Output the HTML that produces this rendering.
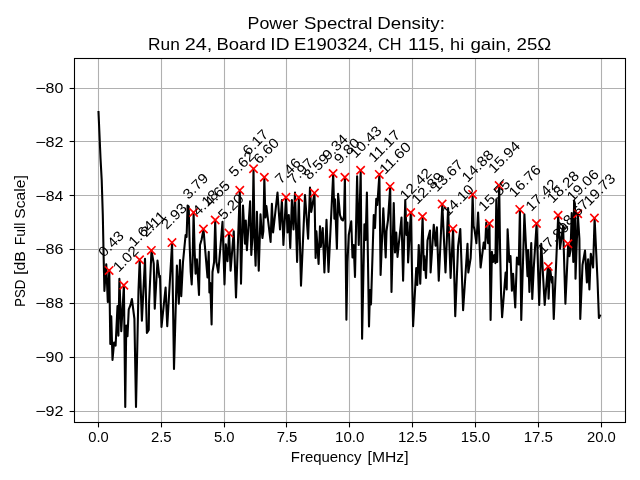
<!DOCTYPE html>
<html><head><meta charset="utf-8"><title>Power Spectral Density</title>
<style>html,body{margin:0;padding:0;background:#fff;}body{width:640px;height:480px;overflow:hidden;}svg{display:block;}text{font-family:"Liberation Sans",sans-serif;fill:#000;}svg{will-change:transform;}</style></head><body>
<svg width="640" height="480" viewBox="0 0 640 480">
<rect x="0" y="0" width="640" height="480" fill="#ffffff"/>
<g stroke="#b0b0b0" stroke-width="1.1" fill="none">
<line x1="98.5" y1="58.5" x2="98.5" y2="422.5"/>
<line x1="161.5" y1="58.5" x2="161.5" y2="422.5"/>
<line x1="224.5" y1="58.5" x2="224.5" y2="422.5"/>
<line x1="286.5" y1="58.5" x2="286.5" y2="422.5"/>
<line x1="349.5" y1="58.5" x2="349.5" y2="422.5"/>
<line x1="412.5" y1="58.5" x2="412.5" y2="422.5"/>
<line x1="475.5" y1="58.5" x2="475.5" y2="422.5"/>
<line x1="538.5" y1="58.5" x2="538.5" y2="422.5"/>
<line x1="601.5" y1="58.5" x2="601.5" y2="422.5"/>
<line x1="74.5" y1="88.5" x2="625.5" y2="88.5"/>
<line x1="74.5" y1="141.5" x2="625.5" y2="141.5"/>
<line x1="74.5" y1="195.5" x2="625.5" y2="195.5"/>
<line x1="74.5" y1="249.5" x2="625.5" y2="249.5"/>
<line x1="74.5" y1="303.5" x2="625.5" y2="303.5"/>
<line x1="74.5" y1="357.5" x2="625.5" y2="357.5"/>
<line x1="74.5" y1="411.5" x2="625.5" y2="411.5"/>
</g>
<clipPath id="axclip"><rect x="74.5" y="58.5" width="551.0" height="364.0"/></clipPath>
<polyline clip-path="url(#axclip)" points="98.50,112.00 99.50,135.00 100.50,158.00 101.70,180.00 102.80,215.00 103.60,255.00 104.40,291.00 106.25,264.40 107.80,302.00 109.30,270.40 110.30,344.00 111.25,316.25 112.50,360.00 114.10,342.50 115.60,345.60 117.50,306.00 118.40,335.60 119.40,278.75 121.25,331.25 123.90,285.25 125.25,406.90 126.25,325.60 127.50,336.25 128.75,309.40 130.50,305.00 131.90,299.00 134.40,318.75 136.00,406.90 138.50,290.00 139.70,259.75 141.90,320.60 145.00,258.75 146.90,333.00 148.75,330.00 149.10,302.50 151.50,250.40 153.75,263.75 154.75,308.75 157.50,260.60 159.40,277.50 160.00,276.00 161.50,326.90 165.60,287.50 167.25,326.25 172.10,242.75 174.00,369.00 176.90,265.60 178.80,303.75 180.00,260.00 181.25,296.25 183.00,262.00 185.60,235.00 186.60,237.00 187.60,205.50 188.70,206.50 189.70,246.00 190.70,272.00 191.70,284.40 192.60,262.00 193.60,212.50 194.60,250.00 195.60,273.75 196.90,259.40 199.00,295.00 200.00,245.00 201.50,240.00 203.50,229.40 207.50,277.50 208.75,251.90 209.40,292.50 210.30,283.00 211.60,324.40 212.50,272.00 214.10,262.00 215.20,220.00 216.40,262.00 218.30,272.50 221.00,240.00 222.50,221.90 224.50,284.40 225.80,244.40 227.50,261.25 229.10,233.10 230.60,270.60 233.75,231.25 236.00,297.50 239.80,190.30 241.00,283.75 243.00,205.50 245.00,243.75 245.80,220.60 246.90,250.30 250.10,201.20 251.30,255.00 252.50,236.00 253.50,168.75 254.50,238.00 255.60,265.60 256.90,211.90 258.75,270.60 260.50,214.40 261.40,227.50 262.40,238.00 263.35,231.00 264.33,177.25 265.40,217.50 266.40,206.00 270.60,241.90 271.90,203.75 273.10,232.50 277.50,192.50 280.00,229.40 281.90,200.00 283.40,245.00 286.00,197.25 287.50,232.50 288.80,215.00 290.25,248.00 291.90,200.00 293.50,229.40 295.00,192.50 297.10,261.90 298.80,197.50 301.00,285.60 305.00,195.00 308.10,238.75 310.00,187.50 311.25,211.90 314.50,193.10 315.60,258.00 316.40,231.25 318.60,264.00 320.00,226.25 320.80,246.90 322.75,228.00 324.40,272.50 326.50,219.75 328.50,271.90 333.20,173.50 334.40,218.75 335.00,199.40 336.90,248.75 338.10,193.75 340.00,215.00 341.50,219.40 342.90,220.50 344.00,216.00 344.90,177.25 346.40,319.75 347.50,262.00 348.75,235.00 351.25,221.25 352.50,257.50 353.70,245.00 355.00,276.90 357.10,176.25 358.75,245.00 360.70,170.25 362.10,338.75 364.40,224.40 365.60,240.00 366.90,192.50 369.00,326.50 370.00,290.00 371.00,304.40 373.75,215.00 375.00,228.00 376.25,198.75 377.30,205.00 379.40,174.40 380.60,275.00 383.30,208.40 385.70,257.50 386.50,231.00 388.00,220.00 390.20,186.50 391.50,291.90 393.75,203.00 395.00,252.50 396.25,232.50 397.50,256.90 401.50,217.50 403.10,280.60 405.25,200.00 406.50,235.00 407.50,222.50 408.10,262.50 410.80,212.50 413.10,326.25 416.25,268.00 417.30,285.00 418.75,245.00 420.25,283.75 422.60,216.50 423.80,270.00 424.40,256.00 426.00,278.00 427.50,240.60 430.00,230.60 430.60,272.50 433.75,224.70 435.60,245.60 436.90,227.20 438.75,280.60 442.30,204.10 445.50,272.50 448.10,208.10 450.60,278.00 453.10,228.75 455.25,316.25 458.10,246.25 460.30,229.00 463.10,310.25 467.50,243.75 468.30,272.50 469.70,264.00 470.65,258.00 471.60,238.00 472.60,194.40 473.60,226.00 474.60,230.00 476.40,243.10 478.10,212.50 480.60,267.50 483.75,242.50 485.00,248.75 486.25,222.50 488.10,243.10 489.46,223.50 490.60,320.00 491.90,251.90 493.00,262.00 494.40,255.00 495.40,263.10 496.30,199.40 497.20,262.00 498.15,225.00 499.20,185.50 500.10,250.00 501.10,295.00 502.10,317.25 505.60,272.50 506.70,289.40 507.60,229.40 509.40,262.00 510.50,256.00 511.90,290.60 513.10,273.75 515.25,307.50 516.90,257.50 518.75,264.40 519.90,209.40 521.25,320.00 524.40,214.40 527.50,276.25 528.10,250.00 529.40,291.90 531.25,243.10 532.25,299.00 533.75,268.10 536.60,223.50 539.20,305.00 541.25,243.75 544.70,305.00 547.90,266.50 548.60,298.75 550.00,268.00 551.90,282.50 552.50,277.00 553.75,319.00 558.20,215.25 560.00,248.75 563.10,226.00 565.40,303.75 568.20,243.75 569.40,256.25 570.60,250.00 571.70,213.00 573.30,262.00 574.10,200.80 574.90,203.50 575.50,278.75 577.80,213.75 579.40,238.75 580.25,319.00 582.50,265.00 585.00,250.60 586.90,282.50 588.10,259.40 589.40,289.40 590.80,253.75 593.10,267.50 594.60,218.10 597.50,280.00 598.90,318.00 600.00,315.50" fill="none" stroke="#000" stroke-width="2.08" stroke-linejoin="round" stroke-linecap="square"/>
<g stroke="#ff0000" stroke-width="1.6" fill="none" stroke-linecap="butt">
<path d="M104.94 266.23L113.28 274.57M104.94 274.57L113.28 266.23"/>
<path d="M119.67 281.08L128.01 289.42M119.67 289.42L128.01 281.08"/>
<path d="M135.39 255.58L143.73 263.92M135.39 263.92L143.73 255.58"/>
<path d="M147.18 246.23L155.52 254.57M147.18 254.57L155.52 246.23"/>
<path d="M167.81 238.43L176.15 246.77M167.81 246.77L176.15 238.43"/>
<path d="M189.42 208.33L197.76 216.67M189.42 216.67L197.76 208.33"/>
<path d="M199.25 224.83L207.59 233.17M199.25 233.17L207.59 224.83"/>
<path d="M211.04 215.83L219.38 224.17M211.04 224.17L219.38 215.83"/>
<path d="M224.79 228.93L233.13 237.27M224.79 237.27L233.13 228.93"/>
<path d="M235.60 186.13L243.94 194.47M235.60 194.47L243.94 186.13"/>
<path d="M249.35 164.58L257.69 172.92M249.35 172.92L257.69 164.58"/>
<path d="M260.16 173.08L268.50 181.42M260.16 181.42L268.50 173.08"/>
<path d="M281.77 193.08L290.11 201.42M281.77 201.42L290.11 193.08"/>
<path d="M294.54 193.33L302.88 201.67M294.54 201.67L302.88 193.33"/>
<path d="M310.26 188.93L318.60 197.27M310.26 197.27L318.60 188.93"/>
<path d="M328.93 169.33L337.27 177.67M328.93 177.67L337.27 169.33"/>
<path d="M340.72 173.08L349.06 181.42M340.72 181.42L349.06 173.08"/>
<path d="M356.44 166.08L364.78 174.42M356.44 174.42L364.78 166.08"/>
<path d="M375.10 170.23L383.44 178.57M375.10 178.57L383.44 170.23"/>
<path d="M385.91 182.23L394.25 190.57M385.91 190.57L394.25 182.23"/>
<path d="M406.54 208.33L414.88 216.67M406.54 216.67L414.88 208.33"/>
<path d="M418.33 212.33L426.67 220.67M418.33 220.67L426.67 212.33"/>
<path d="M437.98 199.93L446.32 208.27M437.98 208.27L446.32 199.93"/>
<path d="M448.78 224.58L457.12 232.92M448.78 232.92L457.12 224.58"/>
<path d="M468.43 190.23L476.77 198.57M468.43 198.57L476.77 190.23"/>
<path d="M485.13 219.33L493.47 227.67M485.13 227.67L493.47 219.33"/>
<path d="M494.96 181.43L503.30 189.77M494.96 189.77L503.30 181.43"/>
<path d="M515.59 205.23L523.93 213.57M515.59 213.57L523.93 205.23"/>
<path d="M532.29 219.33L540.63 227.67M532.29 227.67L540.63 219.33"/>
<path d="M544.08 262.33L552.42 270.67M544.08 270.67L552.42 262.33"/>
<path d="M553.90 211.08L562.24 219.42M553.90 219.42L562.24 211.08"/>
<path d="M563.73 239.58L572.07 247.92M563.73 247.92L572.07 239.58"/>
<path d="M573.55 209.58L581.89 217.92M573.55 217.92L581.89 209.58"/>
<path d="M590.25 213.93L598.59 222.27M590.25 222.27L598.59 213.93"/>
</g>
<g font-size="14.1">
<text transform="translate(103.91,257.80) rotate(-45)" textLength="29.6" lengthAdjust="spacingAndGlyphs">0.43</text>
<text transform="translate(118.64,272.65) rotate(-45)" textLength="29.6" lengthAdjust="spacingAndGlyphs">1.02</text>
<text transform="translate(134.36,247.15) rotate(-45)" textLength="29.6" lengthAdjust="spacingAndGlyphs">1.64</text>
<text transform="translate(146.15,237.80) rotate(-45)" textLength="29.6" lengthAdjust="spacingAndGlyphs">2.11</text>
<text transform="translate(166.78,230.00) rotate(-45)" textLength="29.6" lengthAdjust="spacingAndGlyphs">2.93</text>
<text transform="translate(188.39,199.90) rotate(-45)" textLength="29.6" lengthAdjust="spacingAndGlyphs">3.79</text>
<text transform="translate(198.22,216.40) rotate(-45)" textLength="29.6" lengthAdjust="spacingAndGlyphs">4.18</text>
<text transform="translate(210.01,207.40) rotate(-45)" textLength="29.6" lengthAdjust="spacingAndGlyphs">4.65</text>
<text transform="translate(223.76,220.50) rotate(-45)" textLength="29.6" lengthAdjust="spacingAndGlyphs">5.20</text>
<text transform="translate(234.57,177.70) rotate(-45)" textLength="29.6" lengthAdjust="spacingAndGlyphs">5.62</text>
<text transform="translate(248.32,156.15) rotate(-45)" textLength="29.6" lengthAdjust="spacingAndGlyphs">6.17</text>
<text transform="translate(259.13,164.65) rotate(-45)" textLength="29.6" lengthAdjust="spacingAndGlyphs">6.60</text>
<text transform="translate(280.74,184.65) rotate(-45)" textLength="29.6" lengthAdjust="spacingAndGlyphs">7.46</text>
<text transform="translate(293.51,184.90) rotate(-45)" textLength="29.6" lengthAdjust="spacingAndGlyphs">7.97</text>
<text transform="translate(309.23,180.50) rotate(-45)" textLength="29.6" lengthAdjust="spacingAndGlyphs">8.59</text>
<text transform="translate(327.90,160.90) rotate(-45)" textLength="29.6" lengthAdjust="spacingAndGlyphs">9.34</text>
<text transform="translate(339.69,164.65) rotate(-45)" textLength="29.6" lengthAdjust="spacingAndGlyphs">9.80</text>
<text transform="translate(355.41,158.75) rotate(-45)" textLength="38.4" lengthAdjust="spacingAndGlyphs">10.43</text>
<text transform="translate(374.07,162.90) rotate(-45)" textLength="38.4" lengthAdjust="spacingAndGlyphs">11.17</text>
<text transform="translate(384.88,174.90) rotate(-45)" textLength="38.4" lengthAdjust="spacingAndGlyphs">11.60</text>
<text transform="translate(405.51,201.00) rotate(-45)" textLength="38.4" lengthAdjust="spacingAndGlyphs">12.42</text>
<text transform="translate(417.30,205.00) rotate(-45)" textLength="38.4" lengthAdjust="spacingAndGlyphs">12.89</text>
<text transform="translate(436.95,192.60) rotate(-45)" textLength="38.4" lengthAdjust="spacingAndGlyphs">13.67</text>
<text transform="translate(447.75,217.25) rotate(-45)" textLength="38.4" lengthAdjust="spacingAndGlyphs">14.10</text>
<text transform="translate(467.40,182.90) rotate(-45)" textLength="38.4" lengthAdjust="spacingAndGlyphs">14.88</text>
<text transform="translate(484.10,212.00) rotate(-45)" textLength="38.4" lengthAdjust="spacingAndGlyphs">15.55</text>
<text transform="translate(493.93,174.10) rotate(-45)" textLength="38.4" lengthAdjust="spacingAndGlyphs">15.94</text>
<text transform="translate(514.56,197.90) rotate(-45)" textLength="38.4" lengthAdjust="spacingAndGlyphs">16.76</text>
<text transform="translate(531.26,212.00) rotate(-45)" textLength="38.4" lengthAdjust="spacingAndGlyphs">17.42</text>
<text transform="translate(543.05,255.00) rotate(-45)" textLength="38.4" lengthAdjust="spacingAndGlyphs">17.89</text>
<text transform="translate(552.87,203.75) rotate(-45)" textLength="38.4" lengthAdjust="spacingAndGlyphs">18.28</text>
<text transform="translate(562.70,232.25) rotate(-45)" textLength="38.4" lengthAdjust="spacingAndGlyphs">18.67</text>
<text transform="translate(572.52,202.25) rotate(-45)" textLength="38.4" lengthAdjust="spacingAndGlyphs">19.06</text>
<text transform="translate(589.22,206.60) rotate(-45)" textLength="38.4" lengthAdjust="spacingAndGlyphs">19.73</text>
</g>
<rect x="74.5" y="58.5" width="551.0" height="364.0" fill="none" stroke="#000" stroke-width="1.1"/>
<g stroke="#000" stroke-width="1.1">
<line x1="98.5" y1="422.5" x2="98.5" y2="427.4"/>
<line x1="161.5" y1="422.5" x2="161.5" y2="427.4"/>
<line x1="224.5" y1="422.5" x2="224.5" y2="427.4"/>
<line x1="286.5" y1="422.5" x2="286.5" y2="427.4"/>
<line x1="349.5" y1="422.5" x2="349.5" y2="427.4"/>
<line x1="412.5" y1="422.5" x2="412.5" y2="427.4"/>
<line x1="475.5" y1="422.5" x2="475.5" y2="427.4"/>
<line x1="538.5" y1="422.5" x2="538.5" y2="427.4"/>
<line x1="601.5" y1="422.5" x2="601.5" y2="427.4"/>
<line x1="74.5" y1="88.5" x2="69.6" y2="88.5"/>
<line x1="74.5" y1="141.5" x2="69.6" y2="141.5"/>
<line x1="74.5" y1="195.5" x2="69.6" y2="195.5"/>
<line x1="74.5" y1="249.5" x2="69.6" y2="249.5"/>
<line x1="74.5" y1="303.5" x2="69.6" y2="303.5"/>
<line x1="74.5" y1="357.5" x2="69.6" y2="357.5"/>
<line x1="74.5" y1="411.5" x2="69.6" y2="411.5"/>
</g>
<text font-size="14.1" x="88.33" y="441.95" textLength="20.45" lengthAdjust="spacingAndGlyphs">0.0</text>
<text font-size="14.1" x="150.93" y="441.95" textLength="20.73" lengthAdjust="spacingAndGlyphs">2.5</text>
<text font-size="14.1" x="213.94" y="441.95" textLength="20.59" lengthAdjust="spacingAndGlyphs">5.0</text>
<text font-size="14.1" x="276.68" y="441.95" textLength="20.73" lengthAdjust="spacingAndGlyphs">7.5</text>
<text font-size="14.1" x="335.02" y="441.95" textLength="29.36" lengthAdjust="spacingAndGlyphs">10.0</text>
<text font-size="14.1" x="397.90" y="441.95" textLength="29.36" lengthAdjust="spacingAndGlyphs">12.5</text>
<text font-size="14.1" x="460.77" y="441.95" textLength="29.36" lengthAdjust="spacingAndGlyphs">15.0</text>
<text font-size="14.1" x="523.65" y="441.95" textLength="29.36" lengthAdjust="spacingAndGlyphs">17.5</text>
<text font-size="14.1" x="586.93" y="441.95" textLength="28.94" lengthAdjust="spacingAndGlyphs">20.0</text>
<text font-size="14.1" x="35.35" y="92.95" textLength="10.60" lengthAdjust="spacingAndGlyphs">−</text>
<text font-size="14.1" x="45.64" y="92.95" textLength="17.79" lengthAdjust="spacingAndGlyphs">80</text>
<text font-size="14.1" x="35.35" y="146.79" textLength="10.60" lengthAdjust="spacingAndGlyphs">−</text>
<text font-size="14.1" x="45.63" y="146.79" textLength="17.95" lengthAdjust="spacingAndGlyphs">82</text>
<text font-size="14.1" x="35.35" y="200.63" textLength="10.60" lengthAdjust="spacingAndGlyphs">−</text>
<text font-size="14.1" x="45.65" y="200.63" textLength="17.64" lengthAdjust="spacingAndGlyphs">84</text>
<text font-size="14.1" x="35.35" y="254.47" textLength="10.60" lengthAdjust="spacingAndGlyphs">−</text>
<text font-size="14.1" x="45.63" y="254.47" textLength="17.95" lengthAdjust="spacingAndGlyphs">86</text>
<text font-size="14.1" x="35.35" y="308.31" textLength="10.60" lengthAdjust="spacingAndGlyphs">−</text>
<text font-size="14.1" x="45.64" y="308.31" textLength="17.79" lengthAdjust="spacingAndGlyphs">88</text>
<text font-size="14.1" x="35.35" y="362.15" textLength="10.60" lengthAdjust="spacingAndGlyphs">−</text>
<text font-size="14.1" x="45.64" y="362.15" textLength="17.79" lengthAdjust="spacingAndGlyphs">90</text>
<text font-size="14.1" x="35.35" y="415.99" textLength="10.60" lengthAdjust="spacingAndGlyphs">−</text>
<text font-size="14.1" x="45.63" y="415.99" textLength="17.95" lengthAdjust="spacingAndGlyphs">92</text>
<text font-size="17.0" x="247.56" y="29" textLength="50.52" lengthAdjust="spacingAndGlyphs">Power</text>
<text font-size="17.0" x="304.08" y="29" textLength="68.40" lengthAdjust="spacingAndGlyphs">Spectral</text>
<text font-size="17.0" x="377.24" y="29" textLength="67.66" lengthAdjust="spacingAndGlyphs">Density:</text>
<text font-size="17.0" x="148.10" y="50" textLength="31.73" lengthAdjust="spacingAndGlyphs">Run</text>
<text font-size="17.0" x="184.73" y="50" textLength="27.53" lengthAdjust="spacingAndGlyphs">24,</text>
<text font-size="17.0" x="216.51" y="50" textLength="49.20" lengthAdjust="spacingAndGlyphs">Board</text>
<text font-size="17.0" x="270.37" y="50" textLength="19.11" lengthAdjust="spacingAndGlyphs">ID</text>
<text font-size="17.0" x="294.01" y="50" textLength="78.91" lengthAdjust="spacingAndGlyphs">E190324,</text>
<text font-size="17.0" x="377.91" y="50" textLength="23.45" lengthAdjust="spacingAndGlyphs">CH</text>
<text font-size="17.0" x="408.06" y="50" textLength="36.76" lengthAdjust="spacingAndGlyphs">115,</text>
<text font-size="17.0" x="450.05" y="50" textLength="14.13" lengthAdjust="spacingAndGlyphs">hi</text>
<text font-size="17.0" x="470.42" y="50" textLength="40.72" lengthAdjust="spacingAndGlyphs">gain,</text>
<text font-size="17.0" x="516.54" y="50" textLength="34.78" lengthAdjust="spacingAndGlyphs">25Ω</text>
<text font-size="14.1" x="290.81" y="462" textLength="70.56" lengthAdjust="spacingAndGlyphs">Frequency</text>
<text font-size="14.1" x="367.64" y="462" textLength="40.90" lengthAdjust="spacingAndGlyphs">[MHz]</text>
<text font-size="14.1" transform="translate(25,306.75) rotate(-90)" textLength="27.13" lengthAdjust="spacingAndGlyphs">PSD</text>
<text font-size="14.1" transform="translate(25,274.82) rotate(-90)" textLength="23.70" lengthAdjust="spacingAndGlyphs">[dB</text>
<text font-size="14.1" transform="translate(25,245.32) rotate(-90)" textLength="22.58" lengthAdjust="spacingAndGlyphs">Full</text>
<text font-size="14.1" transform="translate(25,218.69) rotate(-90)" textLength="43.43" lengthAdjust="spacingAndGlyphs">Scale]</text>
</svg></body></html>
